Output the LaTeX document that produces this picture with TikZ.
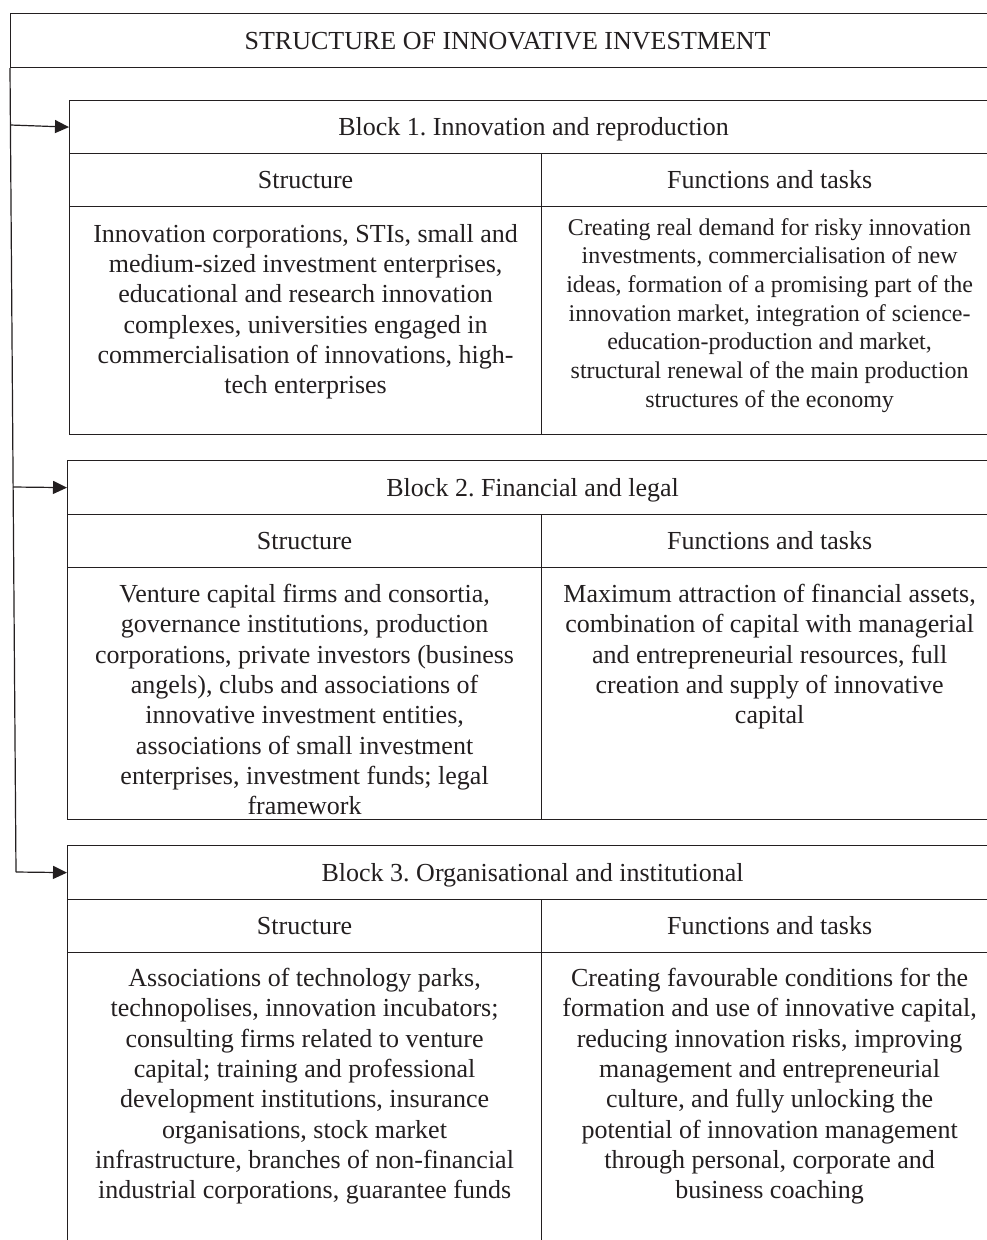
\documentclass[tikz,border=0pt]{standalone}
\usepackage{fontspec}
\setmainfont{Liberation Serif}
\usetikzlibrary{arrows.meta}
\frenchspacing
\begin{document}
\begin{tikzpicture}[x=1pt,y=-1pt,
  box/.style={draw=lineclr, line width=1.2pt, inner sep=0pt, anchor=north west, text height=17pt, text depth=0pt, text=txtclr, font=\fontsize{26}{30.3}\selectfont},
  txt/.style={font=\fontsize{26}{30.3}\selectfont, text=txtclr, align=center, inner sep=0pt, anchor=north},
  txts/.style={font=\fontsize{24}{28.7}\selectfont, text=txtclr, align=center, inner sep=0pt, anchor=north},
  arr/.style={draw=lineclr, line width=1.2pt, -{Triangle[length=14pt,width=13pt]}}]
\definecolor{lineclr}{HTML}{231F20}
\definecolor{txtclr}{HTML}{231F20}
\clip (0,0) rectangle (987,1240);
\fill[white] (0,0) rectangle (987,1240);
% title
\node[box, minimum width=994pt, minimum height=54pt] (title) at (10,13) {STRUCTURE OF INNOVATIVE INVESTMENT};
% block 1
\node[box, minimum width=928pt, minimum height=53pt] (h1) at (69,100) {Block 1. Innovation and reproduction};
\node[box, minimum width=472pt, minimum height=53pt] (s1) at (69,153) {Structure};
\node[box, minimum width=456pt, minimum height=53pt] (f1) at (541,153) {Functions and tasks};
\node[box, minimum width=472pt, minimum height=228pt] (c1l) at (69,206) {};
\node[box, minimum width=456pt, minimum height=228pt] (c1r) at (541,206) {};
\node[txt] (t1l) at ([yshift=-18pt]c1l.north) {Innovation corporations, STIs, small and\\medium-sized investment enterprises,\\educational and research innovation\\complexes, universities engaged in\\commercialisation of innovations, high-\\tech enterprises};
\node[txts] (t1r) at ([yshift=-12pt]c1r.north) {Creating real demand for risky innovation\\investments, commercialisation of new\\ideas, formation of a promising part of the\\innovation market, integration of science-\\education-production and market,\\structural renewal of the main production\\structures of the economy};
% block 2
\node[box, minimum width=930pt, minimum height=54pt] (h2) at (67,460) {Block 2. Financial and legal};
\node[box, minimum width=474pt, minimum height=53pt] (s2) at (67,514) {Structure};
\node[box, minimum width=456pt, minimum height=53pt] (f2) at (541,514) {Functions and tasks};
\node[box, minimum width=474pt, minimum height=252pt] (c2l) at (67,567) {};
\node[box, minimum width=456pt, minimum height=252pt] (c2r) at (541,567) {};
\node[txt] (t2l) at ([yshift=-17pt]c2l.north) {Venture capital firms and consortia,\\governance institutions, production\\corporations, private investors (business\\angels), clubs and associations of\\innovative investment entities,\\associations of small investment\\enterprises, investment funds; legal\\framework};
\node[txt] (t2r) at ([yshift=-17pt]c2r.north) {Maximum attraction of financial assets,\\combination of capital with managerial\\and entrepreneurial resources, full\\creation and supply of innovative\\capital};
% block 3
\node[box, minimum width=930pt, minimum height=54pt] (h3) at (67,845) {Block 3. Organisational and institutional};
\node[box, minimum width=474pt, minimum height=53pt] (s3) at (67,899) {Structure};
\node[box, minimum width=456pt, minimum height=53pt] (f3) at (541,899) {Functions and tasks};
\node[box, minimum width=474pt, minimum height=320pt] (c3l) at (67,952) {};
\node[box, minimum width=456pt, minimum height=320pt] (c3r) at (541,952) {};
\node[txt] (t3l) at ([yshift=-16pt]c3l.north) {Associations of technology parks,\\technopolises, innovation incubators;\\consulting firms related to venture\\capital; training and professional\\development institutions, insurance\\organisations, stock market\\infrastructure, branches of non-financial\\industrial corporations, guarantee funds};
\node[txt] (t3r) at ([yshift=-16pt]c3r.north) {Creating favourable conditions for the\\formation and use of innovative capital,\\reducing innovation risks, improving\\management and entrepreneurial\\culture, and fully unlocking the\\potential of innovation management\\through personal, corporate and\\business coaching};
% connectors
\coordinate (a1) at (10.4,125);
\coordinate (a2) at (13,487);
\coordinate (a3) at (16,872);
\draw[draw=lineclr, line width=1.2pt] (title.south west) -- (a3);
\draw[arr] (a1) -- (h1.west);
\draw[arr] (a2) -- (h2.west);
\draw[arr] (a3) -- (h3.west);
\end{tikzpicture}
\end{document}
